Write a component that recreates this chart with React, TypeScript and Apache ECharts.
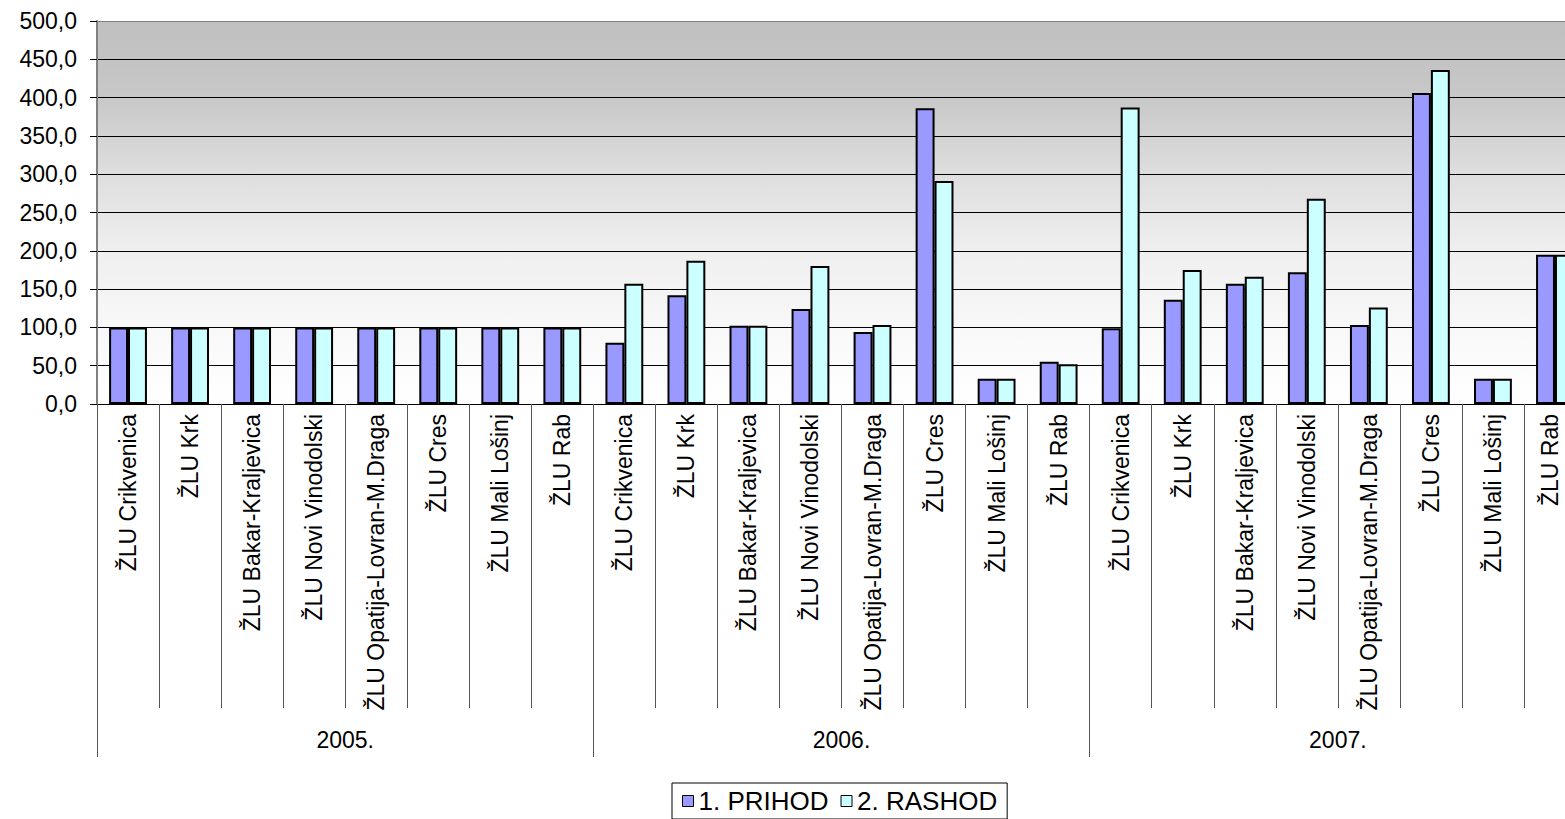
import React, { useEffect, useRef } from "react";
import * as echarts from "echarts";

const years = ["2005.", "2006.", "2007."];
const units = [
  "ŽLU Crikvenica",
  "ŽLU Krk",
  "ŽLU Bakar-Kraljevica",
  "ŽLU Novi Vinodolski",
  "ŽLU Opatija-Lovran-M.Draga",
  "ŽLU Cres",
  "ŽLU Mali Lošinj",
  "ŽLU Rab",
];
const categories = years.flatMap(() => units);

const prihod = [
  100, 100, 100, 100, 100, 100, 100, 100,
  80, 142, 102, 124, 94, 386, 33, 55,
  99, 136, 157, 172, 103, 406, 33, 195,
];
const rashod = [
  100, 100, 100, 100, 100, 100, 100, 100,
  157, 187, 102, 180, 103, 291, 33, 52,
  387, 175, 166, 268, 126, 436, 33, 195,
];

const yTicks = [0, 50, 100, 150, 200, 250, 300, 350, 400, 450, 500];

const FONT = '"Liberation Sans", Arial, sans-serif';

export default function App() {
  const ref = useRef<HTMLDivElement>(null);
  useEffect(() => {
    if (!ref.current) return;
    const chart = echarts.init(ref.current, null, { renderer: "svg" });
    const splitColors = yTicks.map((v) => (v === 500 ? "#808080" : "#000000"));
    chart.setOption({
      animation: false,
      textStyle: { fontFamily: FONT, color: "#000" },
      grid: {
        left: 97,
        top: 21,
        width: 1489,
        height: 383,
        show: true,
        borderWidth: 0,
        backgroundColor: new echarts.graphic.LinearGradient(0, 0, 0, 1, [
          { offset: 0, color: "#C0C0C0" },
          { offset: 0.1, color: "#C3C3C3" },
          { offset: 0.2, color: "#C8C8C8" },
          { offset: 0.4, color: "#DEDEDE" },
          { offset: 0.6, color: "#EFEFEF" },
          { offset: 0.8, color: "#F8F8F8" },
          { offset: 1, color: "#FFFFFF" },
        ]),
      },
      legend: {
        left: 672,
        top: 783,
        orient: "horizontal",
        padding: [5, 10, 5, 10],
        borderColor: "#000",
        borderWidth: 1,
        itemWidth: 11,
        itemHeight: 11,
        itemGap: 12,
        icon: "rect",
        itemStyle: { borderColor: "#000", borderWidth: 1 },
        textStyle: { fontSize: 26, color: "#000", fontFamily: FONT },
        data: ["1. PRIHOD", "2. RASHOD"],
      },
      xAxis: [
        {
          type: "category",
          data: categories,
          position: "bottom",
          boundaryGap: true,
          axisLine: { show: true, lineStyle: { color: "#000", width: 1 } },
          axisTick: {
            show: true,
            interval: 0,
            length: 304,
            lineStyle: { color: "#555", width: 1 },
          },
          axisLabel: {
            interval: 0,
            rotate: 90,
            margin: 10,
            fontSize: 23,
            color: "#000",
            fontFamily: FONT,
            formatter: (v: string, i: number) =>
              i === categories.length - 1 ? "{last|" + v + "}" : v,
            rich: {
              last: {
                fontSize: 23,
                color: "#000",
                fontFamily: FONT,
                padding: [0, 0, 9, 0],
              },
            },
          },
          splitLine: { show: false },
        },
        {
          type: "category",
          data: years,
          position: "bottom",
          boundaryGap: true,
          axisLine: { show: false },
          axisTick: {
            show: true,
            interval: 0,
            length: 353,
            lineStyle: { color: "#555", width: 1 },
          },
          axisLabel: {
            interval: 0,
            margin: 324,
            fontSize: 23,
            color: "#000",
            fontFamily: FONT,
          },
          splitLine: { show: false },
        },
      ],
      yAxis: {
        type: "value",
        min: 0,
        max: 500,
        interval: 50,
        axisLine: { show: true, lineStyle: { color: "#808080", width: 2 } },
        axisTick: { show: true, length: 7, lineStyle: { color: "#000" } },
        axisLabel: {
          margin: 20,
          fontSize: 23,
          color: "#000",
          fontFamily: FONT,
          formatter: (v: number) => v.toFixed(1).replace(".", ","),
        },
        splitLine: { show: true, lineStyle: { color: splitColors, width: 1 } },
      },
      series: [
        {
          name: "1. PRIHOD",
          type: "bar",
          xAxisIndex: 0,
          data: prihod,
          barGap: "0%",
          barCategoryGap: "39%",
          itemStyle: { color: "#9999FF", borderColor: "#000", borderWidth: 2 },
        },
        {
          name: "2. RASHOD",
          type: "bar",
          xAxisIndex: 0,
          data: rashod,
          barGap: "0%",
          barCategoryGap: "39%",
          itemStyle: { color: "#CCFFFF", borderColor: "#000", borderWidth: 2 },
        },
      ],
    });
    return () => chart.dispose();
  }, []);
  return (
    <div
      style={{
        position: "absolute",
        left: 0,
        top: 0,
        width: 1565,
        height: 819,
        overflow: "hidden",
      }}
    >
      <div ref={ref} style={{ width: 1600, height: 819 }} />
    </div>
  );
}
